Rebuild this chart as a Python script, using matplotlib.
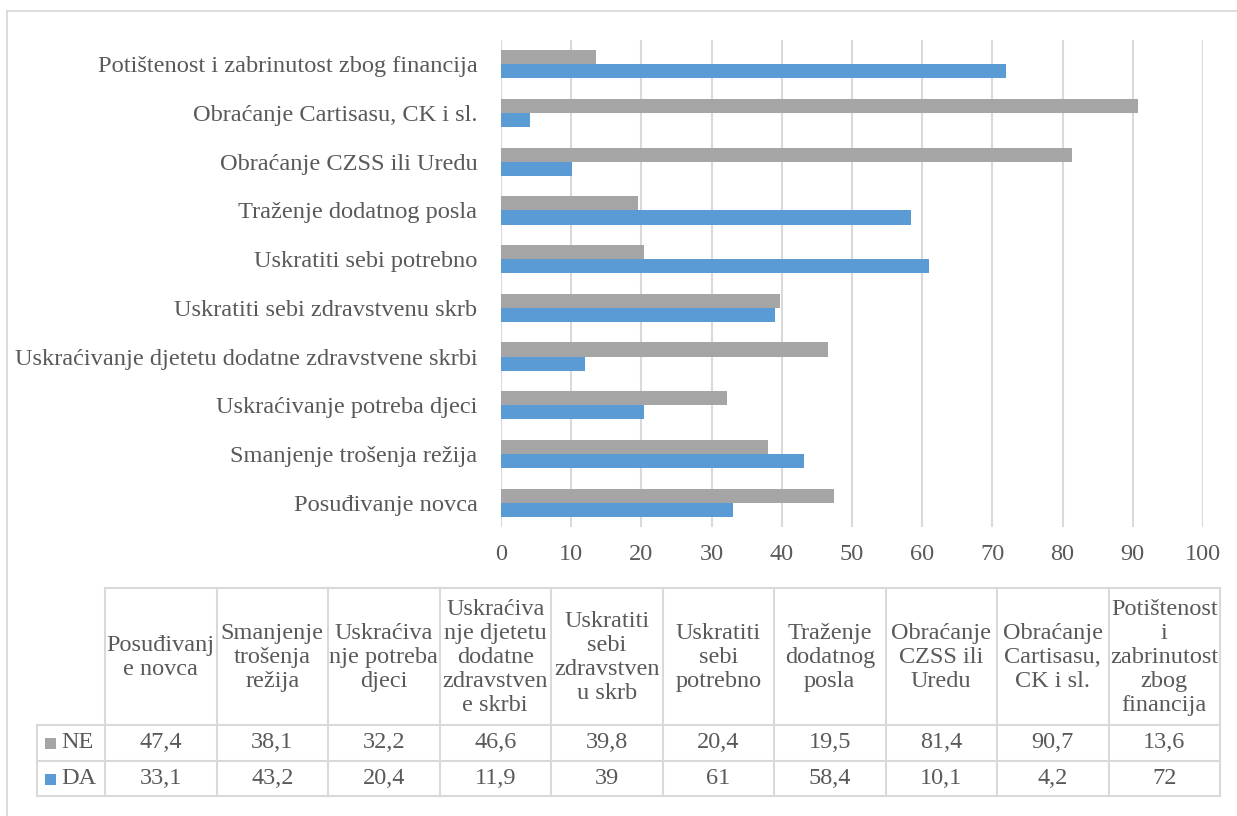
import matplotlib
matplotlib.use("Agg")
import matplotlib.pyplot as plt
from matplotlib.patches import Rectangle
from matplotlib.lines import Line2D
import numpy as np

categories = ["Posuđivanje novca", "Smanjenje trošenja režija", "Uskraćivanje potreba djeci",
              "Uskraćivanje djetetu dodatne zdravstvene skrbi", "Uskratiti sebi zdravstvenu skrb",
              "Uskratiti sebi potrebno", "Traženje dodatnog posla", "Obraćanje CZSS ili Uredu",
              "Obraćanje Cartisasu, CK i sl.", "Potištenost i zabrinutost zbog financija"]
table_headers = ["Posuđivanj\ne novca", "Smanjenje\ntrošenja\nrežija", "Uskraćiva\nnje potreba\ndjeci",
                 "Uskraćiva\nnje djetetu\ndodatne\nzdravstven\ne skrbi", "Uskratiti\nsebi\nzdravstven\nu skrb",
                 "Uskratiti\nsebi\npotrebno", "Traženje\ndodatnog\nposla", "Obraćanje\nCZSS ili\nUredu",
                 "Obraćanje\nCartisasu,\nCK i sl.", "Potištenost\ni\nzabrinutost\nzbog\nfinancija"]
ne_values = [47.4, 38.1, 32.2, 46.6, 39.8, 20.4, 19.5, 81.4, 90.7, 13.6]
da_values = [33.1, 43.2, 20.4, 11.9, 39, 61, 58.4, 10.1, 4.2, 72]
series_names = ["NE", "DA"]
x_ticks = [0, 10, 20, 30, 40, 50, 60, 70, 80, 90, 100]

GRAY = "#A5A5A5"
BLUE = "#5B9BD5"
TXT = "#595959"
LINE = "#D9D9D9"
FONT = "Liberation Serif"
FS = 17.5
FS_CAT = 17.6

W, H = 1237, 816
fig = plt.figure(figsize=(W / 100, H / 100), dpi=100)
fig.patch.set_facecolor("white")

def fx(px):
    return px / W

def fy(py):
    return 1 - py / H

# outer chart frame (extends beyond image)
fig.add_artist(Rectangle((fx(7), fy(830)), fx(1300) - fx(7), fy(11) - fy(830),
                         transform=fig.transFigure, fill=False, edgecolor=LINE, lw=1.3))

ax = fig.add_axes([fx(501), fy(527), fx(1203) - fx(501), fy(40) - fy(527)])
y = np.arange(len(categories))
h = 0.29
ax.barh(y + h / 2, ne_values, height=h, color=GRAY, zorder=3)
ax.barh(y - h / 2, da_values, height=h, color=BLUE, zorder=3)
ax.set_xlim(0, 100)
ax.set_ylim(-0.5, len(categories) - 0.5)
ax.set_xticks(x_ticks)
ax.set_xticklabels([str(t) for t in x_ticks], fontfamily=FONT, fontsize=FS, color=TXT)
ax.set_yticks(y)
ax.set_yticklabels(categories, fontfamily=FONT, fontsize=FS_CAT, color=TXT)
ax.tick_params(axis="both", length=0)
ax.tick_params(axis="y", pad=17)
ax.tick_params(axis="x", pad=12)
ax.grid(axis="x", color=LINE, lw=1.5, zorder=0)
for s in ax.spines.values():
    s.set_visible(False)

# data table
col_edges = [105 + i * 111.5 for i in range(len(categories) + 1)]
label_left = 37
row_top, row_ne, row_da, row_bot = 588, 725, 761, 796

def hline(x0, x1, yy):
    fig.add_artist(Line2D([fx(x0), fx(x1)], [fy(yy), fy(yy)], transform=fig.transFigure, color=LINE, lw=1.5))

def vline(xx, y0, y1):
    fig.add_artist(Line2D([fx(xx), fx(xx)], [fy(y0), fy(y1)], transform=fig.transFigure, color=LINE, lw=1.5))

hline(col_edges[0], col_edges[-1], row_top)
for yy in (row_ne, row_da, row_bot):
    hline(label_left, col_edges[-1], yy)
for xx in col_edges:
    vline(xx, row_top, row_bot)
vline(label_left, row_ne, row_bot)

for i, hdr in enumerate(table_headers):
    cx = (col_edges[i] + col_edges[i + 1]) / 2
    fig.text(fx(cx), fy((row_top + row_ne) / 2 + 1), hdr, ha="center", va="center",
             fontfamily=FONT, fontsize=FS, color=TXT, linespacing=1.2)

def fmt(v):
    return ("%g" % v).replace(".", ",")

rows = [(series_names[0], ne_values, GRAY, row_ne, row_da), (series_names[1], da_values, BLUE, row_da, row_bot)]
for name, vals, col, r0, r1 in rows:
    cy = (r0 + r1) / 2
    fig.add_artist(Rectangle((fx(45), fy(cy + 6)), fx(11), fy(0) - fy(11), transform=fig.transFigure,
                             facecolor=col, edgecolor="none"))
    fig.text(fx(61), fy(cy), name, ha="left", va="center", fontfamily=FONT, fontsize=FS, color=TXT)
    for i, v in enumerate(vals):
        cx = (col_edges[i] + col_edges[i + 1]) / 2
        fig.text(fx(cx), fy(cy), fmt(v), ha="center", va="center", fontfamily=FONT, fontsize=FS, color=TXT)

fig.savefig("out.png", dpi=100, facecolor="white")
